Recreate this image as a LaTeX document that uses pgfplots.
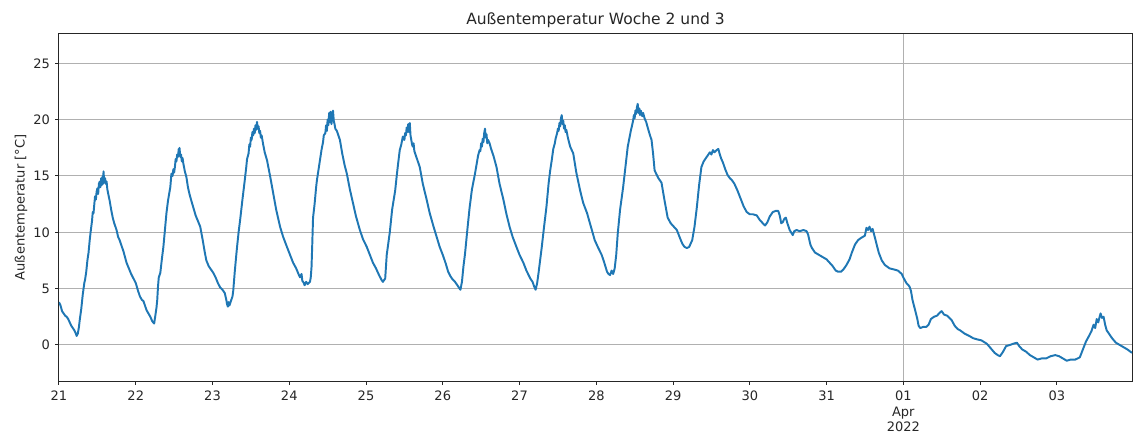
\documentclass[border=0pt]{standalone}
\usepackage{fontspec}
\setmainfont{DejaVu Sans}
\usepackage{pgfplots}
\pgfplotsset{compat=1.18}
\definecolor{mplblue}{RGB}{31,119,180}
\definecolor{gridgray}{RGB}{176,176,176}
\begin{document}
\begin{tikzpicture}
\begin{axis}[
  name=ax,
  scale only axis,
  width=1073pt, height=347pt,
  xmin=0, xmax=13.98,
  ymin=-3.2, ymax=27.6,
  axis line style={line width=1pt, black!85},
  tick align=outside,
  tick pos=left,
  major tick length=3.5pt,
  xtick={0,1,2,3,4,5,6,7,8,9,10,11,12,13},
  xticklabels={21,22,23,24,25,26,27,28,29,30,31,{},02,03},
  tick style={line width=1pt, black!85},
  ytick={0,5,10,15,20,25},
  ymajorgrids=true,
  xmajorgrids=false,
  major grid style={gridgray, line width=1pt},
  /pgf/number format/assume math mode=true,
  ticklabel style={font=\fontsize{13}{15.5}\selectfont, text=black!85},
  xticklabel style={yshift=-3pt},
  yticklabel style={xshift=-2pt},
  title={Außentemperatur Woche 2 und 3},
  title style={font=\fontsize{15.5}{18}\selectfont, at={(axis description cs:0.5,1)}, anchor=base, yshift=3pt, text=black!85},
  ylabel={Außentemperatur [°C]},
  ylabel style={font=\fontsize{13}{15}\selectfont, at={(axis description cs:-0.0354,0.5)}, anchor=center, rotate=0, text=black!85},
]
\draw[gridgray, line width=1pt] (axis cs:11,-3.2) -- (axis cs:11,27.6);
\addplot[mplblue, line width=1.95pt, line join=round] table {
x y
0.00 3.8
0.02 3.5
0.04 3.0
0.06 2.8
0.08 2.6
0.10 2.5
0.12 2.3
0.14 2.0
0.16 1.7
0.18 1.5
0.20 1.3
0.22 1.0
0.23 0.8
0.245 1.0
0.26 1.6
0.27 2.2
0.29 3.2
0.31 4.5
0.33 5.5
0.34 5.8
0.355 6.5
0.37 7.5
0.385 8.2
0.40 9.3
0.415 10.2
0.43 11.0
0.44 11.8
0.45 11.7
0.46 12.5
0.47 13.2
0.48 12.9
0.49 13.6
0.50 13.9
0.51 13.4
0.52 14.3
0.53 14.5
0.54 14.0
0.55 14.8
0.56 14.2
0.57 15.0
0.575 14.3
0.58 15.4
0.59 14.4
0.60 14.8
0.61 14.3
0.62 14.5
0.63 13.8
0.645 13.3
0.66 12.8
0.68 12.0
0.70 11.3
0.72 10.8
0.75 10.2
0.77 9.6
0.79 9.3
0.82 8.7
0.84 8.3
0.86 7.8
0.88 7.3
0.91 6.8
0.94 6.3
0.97 5.9
1.00 5.5
1.03 4.8
1.055 4.3
1.08 4.0
1.10 3.9
1.12 3.5
1.14 3.1
1.165 2.8
1.19 2.5
1.215 2.1
1.24 1.9
1.255 2.6
1.27 3.3
1.28 4.0
1.29 5.2
1.30 6.0
1.32 6.4
1.34 7.6
1.36 8.7
1.38 10.2
1.40 11.7
1.42 12.8
1.44 13.6
1.45 14.0
1.465 15.2
1.48 15.0
1.49 15.6
1.50 15.3
1.51 15.8
1.52 16.5
1.53 16.3
1.54 16.9
1.55 16.7
1.56 17.4
1.565 16.8
1.57 17.5
1.58 16.7
1.59 16.9
1.60 16.3
1.61 16.6
1.62 16.1
1.64 15.4
1.66 14.9
1.68 14.0
1.70 13.4
1.72 12.9
1.75 12.2
1.78 11.5
1.81 11.0
1.84 10.5
1.87 9.4
1.90 8.2
1.92 7.5
1.95 7.0
1.98 6.7
2.01 6.4
2.04 6.0
2.07 5.5
2.10 5.1
2.13 4.9
2.16 4.6
2.18 4.0
2.19 3.6
2.20 3.4
2.21 3.8
2.22 3.5
2.24 3.9
2.26 4.3
2.27 4.8
2.29 6.5
2.31 8.0
2.32 8.7
2.34 10.0
2.36 11.1
2.39 12.9
2.42 14.6
2.44 15.8
2.45 16.5
2.47 17.0
2.48 17.8
2.49 17.6
2.50 18.4
2.51 18.2
2.52 18.9
2.53 18.6
2.54 19.2
2.55 18.8
2.56 19.5
2.57 19.1
2.58 19.8
2.59 19.2
2.60 19.4
2.61 18.8
2.62 19.0
2.63 18.4
2.64 18.6
2.66 17.8
2.68 17.1
2.71 16.4
2.75 15.0
2.79 13.5
2.83 12.0
2.88 10.5
2.92 9.6
2.97 8.7
3.01 8.0
3.05 7.3
3.09 6.8
3.12 6.3
3.14 6.0
3.16 6.3
3.17 5.7
3.19 5.5
3.20 5.3
3.22 5.6
3.24 5.4
3.27 5.6
3.28 6.0
3.29 6.9
3.30 9.0
3.31 11.3
3.33 12.5
3.35 14.0
3.36 14.6
3.38 15.5
3.40 16.4
3.42 17.3
3.44 18.0
3.45 18.6
3.47 18.8
3.48 19.5
3.49 19.0
3.50 20.0
3.51 19.5
3.52 20.6
3.53 19.8
3.54 20.7
3.55 19.6
3.56 20.2
3.57 20.8
3.58 19.9
3.59 19.6
3.60 19.2
3.62 19.0
3.64 18.6
3.66 18.2
3.69 17.0
3.72 16.0
3.75 15.2
3.79 13.8
3.83 12.6
3.87 11.4
3.92 10.2
3.96 9.4
4.01 8.7
4.05 8.0
4.09 7.3
4.13 6.8
4.17 6.2
4.20 5.8
4.22 5.6
4.25 5.9
4.27 8.0
4.31 10.0
4.34 12.0
4.38 13.7
4.40 15.0
4.42 16.2
4.44 17.3
4.46 17.8
4.48 18.5
4.50 18.2
4.51 18.8
4.52 18.6
4.53 19.3
4.54 18.9
4.55 19.6
4.56 18.9
4.57 19.7
4.58 18.6
4.59 18.2
4.60 17.8
4.61 17.6
4.62 17.9
4.63 17.2
4.66 16.6
4.70 15.8
4.74 14.3
4.79 12.9
4.83 11.7
4.88 10.5
4.92 9.6
4.96 8.7
5.00 8.0
5.04 7.2
5.07 6.5
5.10 6.1
5.13 5.8
5.16 5.6
5.19 5.3
5.21 5.1
5.23 4.9
5.25 5.6
5.27 7.0
5.29 8.1
5.32 10.2
5.35 12.2
5.38 13.8
5.40 14.5
5.42 15.2
5.44 16.0
5.46 16.8
5.48 17.3
5.49 17.2
5.50 17.9
5.51 17.6
5.52 18.3
5.53 18.0
5.54 18.8
5.55 19.2
5.56 18.4
5.57 18.7
5.58 17.9
5.59 18.2
5.61 17.9
5.63 17.4
5.66 16.8
5.70 15.8
5.74 14.3
5.79 12.9
5.83 11.6
5.87 10.5
5.91 9.6
5.96 8.7
6.00 8.0
6.05 7.3
6.09 6.6
6.14 5.9
6.17 5.6
6.19 5.2
6.21 4.9
6.23 5.5
6.25 6.5
6.27 7.6
6.29 8.7
6.32 10.5
6.35 12.2
6.38 14.4
6.40 15.5
6.42 16.4
6.44 17.4
6.46 17.9
6.47 18.3
6.49 18.8
6.50 19.2
6.51 19.0
6.52 19.7
6.53 19.4
6.54 20.1
6.55 20.4
6.56 19.6
6.57 19.9
6.58 19.2
6.59 19.5
6.60 18.9
6.61 19.1
6.63 18.4
6.66 17.6
6.70 17.0
6.74 15.3
6.79 13.7
6.83 12.6
6.88 11.7
6.93 10.5
6.98 9.3
7.02 8.7
7.07 8.0
7.10 7.4
7.14 6.5
7.16 6.3
7.18 6.2
7.20 6.6
7.22 6.3
7.24 6.8
7.26 8.0
7.28 9.9
7.31 12.0
7.35 14.0
7.38 15.8
7.41 17.6
7.43 18.3
7.45 19.0
7.47 19.6
7.48 19.9
7.49 20.4
7.50 20.1
7.51 20.8
7.52 20.5
7.53 21.1
7.54 21.4
7.55 20.6
7.56 21.0
7.57 20.4
7.58 20.8
7.60 20.3
7.61 20.6
7.63 20.1
7.65 19.8
7.67 19.3
7.70 18.6
7.72 18.2
7.74 17.0
7.76 15.5
7.78 15.2
7.81 14.8
7.85 14.4
7.89 12.8
7.93 11.3
7.97 10.8
8.01 10.5
8.05 10.2
8.09 9.5
8.12 9.0
8.15 8.7
8.18 8.6
8.21 8.7
8.25 9.3
8.28 10.5
8.31 12.2
8.34 14.2
8.37 15.8
8.40 16.3
8.43 16.6
8.45 16.8
8.48 17.1
8.50 16.9
8.52 17.3
8.54 17.1
8.57 17.3
8.59 17.4
8.61 16.9
8.63 16.5
8.65 16.2
8.68 15.6
8.71 15.1
8.74 14.8
8.77 14.6
8.80 14.3
8.84 13.7
8.88 13.0
8.92 12.3
8.96 11.8
9.00 11.6
9.04 11.6
9.09 11.5
9.13 11.1
9.17 10.8
9.20 10.6
9.23 10.9
9.26 11.4
9.30 11.8
9.34 11.9
9.37 11.9
9.39 11.5
9.41 10.8
9.43 10.9
9.45 11.2
9.47 11.3
9.49 10.8
9.52 10.2
9.56 9.75
9.58 10.1
9.61 10.2
9.65 10.1
9.70 10.2
9.74 10.1
9.76 9.8
9.79 8.9
9.81 8.6
9.85 8.2
9.90 8.0
9.95 7.8
10.00 7.6
10.04 7.3
10.08 7.0
10.12 6.6
10.15 6.5
10.19 6.5
10.22 6.7
10.26 7.1
10.30 7.6
10.33 8.2
10.37 8.9
10.41 9.3
10.45 9.5
10.50 9.7
10.52 10.4
10.54 10.2
10.56 10.5
10.58 10.1
10.60 10.3
10.62 9.8
10.65 9.0
10.68 8.2
10.72 7.5
10.76 7.1
10.82 6.8
10.88 6.7
10.93 6.6
10.98 6.3
11.00 6.0
11.04 5.5
11.08 5.2
11.10 4.8
11.12 4.0
11.15 3.2
11.18 2.4
11.20 1.7
11.22 1.5
11.26 1.6
11.30 1.6
11.33 1.8
11.36 2.3
11.40 2.5
11.44 2.6
11.48 2.9
11.50 3.0
11.53 2.7
11.57 2.6
11.60 2.4
11.63 2.2
11.67 1.7
11.71 1.4
11.74 1.3
11.80 1.0
11.86 0.8
11.91 0.6
11.96 0.5
12.02 0.4
12.09 0.1
12.14 -0.3
12.19 -0.7
12.23 -0.9
12.26 -1.0
12.30 -0.6
12.34 -0.1
12.39 0.0
12.43 0.1
12.48 0.2
12.51 -0.1
12.55 -0.4
12.60 -0.6
12.65 -0.9
12.70 -1.1
12.75 -1.3
12.80 -1.2
12.86 -1.2
12.92 -1.0
12.98 -0.9
13.03 -1.0
13.08 -1.2
13.13 -1.4
13.18 -1.3
13.24 -1.3
13.30 -1.1
13.34 -0.4
13.38 0.3
13.42 0.8
13.45 1.2
13.48 1.8
13.50 1.5
13.52 2.3
13.54 2.0
13.57 2.8
13.59 2.4
13.61 2.5
13.63 1.8
13.65 1.3
13.68 1.0
13.72 0.6
13.77 0.2
13.82 0.0
13.87 -0.2
13.92 -0.4
13.98 -0.7
};
\end{axis}
\node[anchor=north, align=center, font=\fontsize{13}{15.5}\selectfont, text=black!85] at ([xshift=844.3pt, yshift=-6.5pt]ax.south west) {01\\Apr\\2022};
\pgfresetboundingbox
\path ([xshift=-59pt,yshift=-52pt]ax.south west) rectangle ([xshift=1pt,yshift=34pt]ax.north east);
\end{tikzpicture}
\end{document}
